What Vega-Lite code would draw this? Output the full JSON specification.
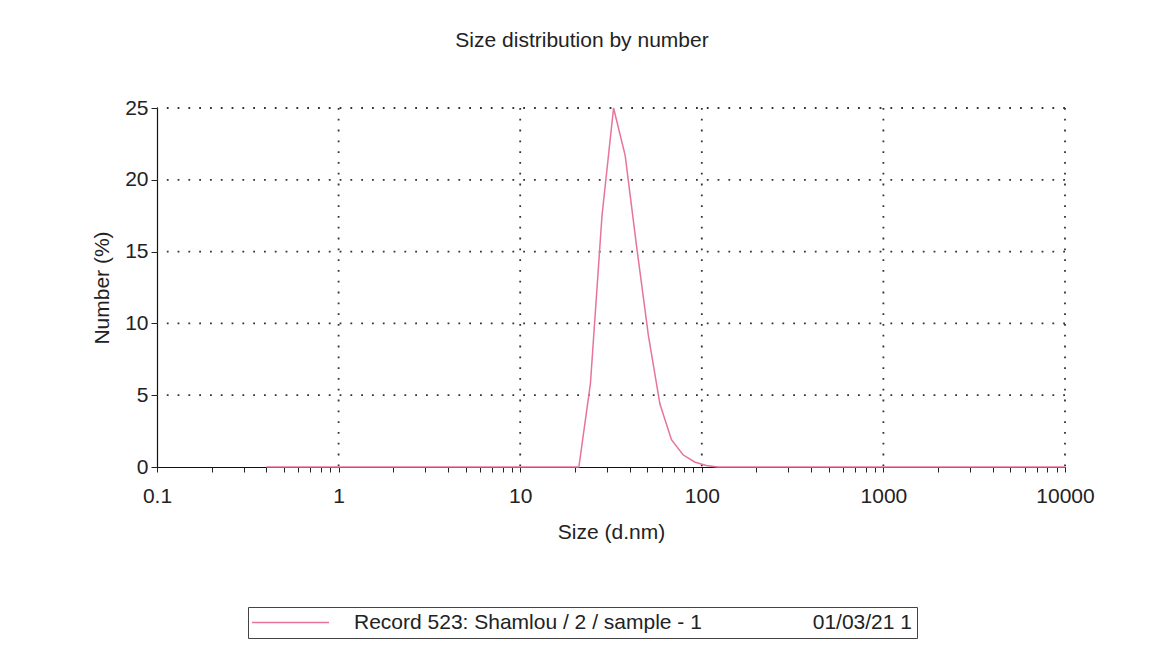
{
  "$schema": "https://vega.github.io/schema/vega-lite/v6.json",
  "autosize": {"type": "none"},
  "width": 908,
  "height": 359,
  "padding": {"left": 157, "top": 108, "right": 95, "bottom": 191},
  "background": "white",
  "title": {
    "text": "Size distribution by number",
    "font": "Liberation Sans",
    "fontSize": 21,
    "fontWeight": "normal",
    "color": "#222",
    "anchor": "middle",
    "frame": "group",
    "dx": -29,
    "offset": 46
  },
  "datasets": {
    "dist": [
      {"size": 0.4, "number": 0, "record": "Record 523: Shamlou / 2 / sample - 1\u00a0\u00a0\u00a0\u00a0\u00a0\u00a0\u00a0\u00a0\u00a0\u00a0\u00a0\u00a0\u00a0\u00a0\u00a0\u00a0\u00a0\u00a0\u00a001/03/21 1"},
      {"size": 0.4632, "number": 0, "record": "Record 523: Shamlou / 2 / sample - 1\u00a0\u00a0\u00a0\u00a0\u00a0\u00a0\u00a0\u00a0\u00a0\u00a0\u00a0\u00a0\u00a0\u00a0\u00a0\u00a0\u00a0\u00a0\u00a001/03/21 1"},
      {"size": 0.5365, "number": 0, "record": "Record 523: Shamlou / 2 / sample - 1\u00a0\u00a0\u00a0\u00a0\u00a0\u00a0\u00a0\u00a0\u00a0\u00a0\u00a0\u00a0\u00a0\u00a0\u00a0\u00a0\u00a0\u00a0\u00a001/03/21 1"},
      {"size": 0.6213, "number": 0, "record": "Record 523: Shamlou / 2 / sample - 1\u00a0\u00a0\u00a0\u00a0\u00a0\u00a0\u00a0\u00a0\u00a0\u00a0\u00a0\u00a0\u00a0\u00a0\u00a0\u00a0\u00a0\u00a0\u00a001/03/21 1"},
      {"size": 0.7195, "number": 0, "record": "Record 523: Shamlou / 2 / sample - 1\u00a0\u00a0\u00a0\u00a0\u00a0\u00a0\u00a0\u00a0\u00a0\u00a0\u00a0\u00a0\u00a0\u00a0\u00a0\u00a0\u00a0\u00a0\u00a001/03/21 1"},
      {"size": 0.8332, "number": 0, "record": "Record 523: Shamlou / 2 / sample - 1\u00a0\u00a0\u00a0\u00a0\u00a0\u00a0\u00a0\u00a0\u00a0\u00a0\u00a0\u00a0\u00a0\u00a0\u00a0\u00a0\u00a0\u00a0\u00a001/03/21 1"},
      {"size": 0.9649, "number": 0, "record": "Record 523: Shamlou / 2 / sample - 1\u00a0\u00a0\u00a0\u00a0\u00a0\u00a0\u00a0\u00a0\u00a0\u00a0\u00a0\u00a0\u00a0\u00a0\u00a0\u00a0\u00a0\u00a0\u00a001/03/21 1"},
      {"size": 1.117, "number": 0, "record": "Record 523: Shamlou / 2 / sample - 1\u00a0\u00a0\u00a0\u00a0\u00a0\u00a0\u00a0\u00a0\u00a0\u00a0\u00a0\u00a0\u00a0\u00a0\u00a0\u00a0\u00a0\u00a0\u00a001/03/21 1"},
      {"size": 1.294, "number": 0, "record": "Record 523: Shamlou / 2 / sample - 1\u00a0\u00a0\u00a0\u00a0\u00a0\u00a0\u00a0\u00a0\u00a0\u00a0\u00a0\u00a0\u00a0\u00a0\u00a0\u00a0\u00a0\u00a0\u00a001/03/21 1"},
      {"size": 1.499, "number": 0, "record": "Record 523: Shamlou / 2 / sample - 1\u00a0\u00a0\u00a0\u00a0\u00a0\u00a0\u00a0\u00a0\u00a0\u00a0\u00a0\u00a0\u00a0\u00a0\u00a0\u00a0\u00a0\u00a0\u00a001/03/21 1"},
      {"size": 1.736, "number": 0, "record": "Record 523: Shamlou / 2 / sample - 1\u00a0\u00a0\u00a0\u00a0\u00a0\u00a0\u00a0\u00a0\u00a0\u00a0\u00a0\u00a0\u00a0\u00a0\u00a0\u00a0\u00a0\u00a0\u00a001/03/21 1"},
      {"size": 2.01, "number": 0, "record": "Record 523: Shamlou / 2 / sample - 1\u00a0\u00a0\u00a0\u00a0\u00a0\u00a0\u00a0\u00a0\u00a0\u00a0\u00a0\u00a0\u00a0\u00a0\u00a0\u00a0\u00a0\u00a0\u00a001/03/21 1"},
      {"size": 2.328, "number": 0, "record": "Record 523: Shamlou / 2 / sample - 1\u00a0\u00a0\u00a0\u00a0\u00a0\u00a0\u00a0\u00a0\u00a0\u00a0\u00a0\u00a0\u00a0\u00a0\u00a0\u00a0\u00a0\u00a0\u00a001/03/21 1"},
      {"size": 2.696, "number": 0, "record": "Record 523: Shamlou / 2 / sample - 1\u00a0\u00a0\u00a0\u00a0\u00a0\u00a0\u00a0\u00a0\u00a0\u00a0\u00a0\u00a0\u00a0\u00a0\u00a0\u00a0\u00a0\u00a0\u00a001/03/21 1"},
      {"size": 3.122, "number": 0, "record": "Record 523: Shamlou / 2 / sample - 1\u00a0\u00a0\u00a0\u00a0\u00a0\u00a0\u00a0\u00a0\u00a0\u00a0\u00a0\u00a0\u00a0\u00a0\u00a0\u00a0\u00a0\u00a0\u00a001/03/21 1"},
      {"size": 3.615, "number": 0, "record": "Record 523: Shamlou / 2 / sample - 1\u00a0\u00a0\u00a0\u00a0\u00a0\u00a0\u00a0\u00a0\u00a0\u00a0\u00a0\u00a0\u00a0\u00a0\u00a0\u00a0\u00a0\u00a0\u00a001/03/21 1"},
      {"size": 4.187, "number": 0, "record": "Record 523: Shamlou / 2 / sample - 1\u00a0\u00a0\u00a0\u00a0\u00a0\u00a0\u00a0\u00a0\u00a0\u00a0\u00a0\u00a0\u00a0\u00a0\u00a0\u00a0\u00a0\u00a0\u00a001/03/21 1"},
      {"size": 4.849, "number": 0, "record": "Record 523: Shamlou / 2 / sample - 1\u00a0\u00a0\u00a0\u00a0\u00a0\u00a0\u00a0\u00a0\u00a0\u00a0\u00a0\u00a0\u00a0\u00a0\u00a0\u00a0\u00a0\u00a0\u00a001/03/21 1"},
      {"size": 5.615, "number": 0, "record": "Record 523: Shamlou / 2 / sample - 1\u00a0\u00a0\u00a0\u00a0\u00a0\u00a0\u00a0\u00a0\u00a0\u00a0\u00a0\u00a0\u00a0\u00a0\u00a0\u00a0\u00a0\u00a0\u00a001/03/21 1"},
      {"size": 6.503, "number": 0, "record": "Record 523: Shamlou / 2 / sample - 1\u00a0\u00a0\u00a0\u00a0\u00a0\u00a0\u00a0\u00a0\u00a0\u00a0\u00a0\u00a0\u00a0\u00a0\u00a0\u00a0\u00a0\u00a0\u00a001/03/21 1"},
      {"size": 7.531, "number": 0, "record": "Record 523: Shamlou / 2 / sample - 1\u00a0\u00a0\u00a0\u00a0\u00a0\u00a0\u00a0\u00a0\u00a0\u00a0\u00a0\u00a0\u00a0\u00a0\u00a0\u00a0\u00a0\u00a0\u00a001/03/21 1"},
      {"size": 8.721, "number": 0, "record": "Record 523: Shamlou / 2 / sample - 1\u00a0\u00a0\u00a0\u00a0\u00a0\u00a0\u00a0\u00a0\u00a0\u00a0\u00a0\u00a0\u00a0\u00a0\u00a0\u00a0\u00a0\u00a0\u00a001/03/21 1"},
      {"size": 10.1, "number": 0, "record": "Record 523: Shamlou / 2 / sample - 1\u00a0\u00a0\u00a0\u00a0\u00a0\u00a0\u00a0\u00a0\u00a0\u00a0\u00a0\u00a0\u00a0\u00a0\u00a0\u00a0\u00a0\u00a0\u00a001/03/21 1"},
      {"size": 11.7, "number": 0, "record": "Record 523: Shamlou / 2 / sample - 1\u00a0\u00a0\u00a0\u00a0\u00a0\u00a0\u00a0\u00a0\u00a0\u00a0\u00a0\u00a0\u00a0\u00a0\u00a0\u00a0\u00a0\u00a0\u00a001/03/21 1"},
      {"size": 13.54, "number": 0, "record": "Record 523: Shamlou / 2 / sample - 1\u00a0\u00a0\u00a0\u00a0\u00a0\u00a0\u00a0\u00a0\u00a0\u00a0\u00a0\u00a0\u00a0\u00a0\u00a0\u00a0\u00a0\u00a0\u00a001/03/21 1"},
      {"size": 15.69, "number": 0, "record": "Record 523: Shamlou / 2 / sample - 1\u00a0\u00a0\u00a0\u00a0\u00a0\u00a0\u00a0\u00a0\u00a0\u00a0\u00a0\u00a0\u00a0\u00a0\u00a0\u00a0\u00a0\u00a0\u00a001/03/21 1"},
      {"size": 18.17, "number": 0, "record": "Record 523: Shamlou / 2 / sample - 1\u00a0\u00a0\u00a0\u00a0\u00a0\u00a0\u00a0\u00a0\u00a0\u00a0\u00a0\u00a0\u00a0\u00a0\u00a0\u00a0\u00a0\u00a0\u00a001/03/21 1"},
      {"size": 21.04, "number": 0, "record": "Record 523: Shamlou / 2 / sample - 1\u00a0\u00a0\u00a0\u00a0\u00a0\u00a0\u00a0\u00a0\u00a0\u00a0\u00a0\u00a0\u00a0\u00a0\u00a0\u00a0\u00a0\u00a0\u00a001/03/21 1"},
      {"size": 24.36, "number": 5.8, "record": "Record 523: Shamlou / 2 / sample - 1\u00a0\u00a0\u00a0\u00a0\u00a0\u00a0\u00a0\u00a0\u00a0\u00a0\u00a0\u00a0\u00a0\u00a0\u00a0\u00a0\u00a0\u00a0\u00a001/03/21 1"},
      {"size": 28.21, "number": 17.5, "record": "Record 523: Shamlou / 2 / sample - 1\u00a0\u00a0\u00a0\u00a0\u00a0\u00a0\u00a0\u00a0\u00a0\u00a0\u00a0\u00a0\u00a0\u00a0\u00a0\u00a0\u00a0\u00a0\u00a001/03/21 1"},
      {"size": 32.67, "number": 25.0, "record": "Record 523: Shamlou / 2 / sample - 1\u00a0\u00a0\u00a0\u00a0\u00a0\u00a0\u00a0\u00a0\u00a0\u00a0\u00a0\u00a0\u00a0\u00a0\u00a0\u00a0\u00a0\u00a0\u00a001/03/21 1"},
      {"size": 37.84, "number": 21.7, "record": "Record 523: Shamlou / 2 / sample - 1\u00a0\u00a0\u00a0\u00a0\u00a0\u00a0\u00a0\u00a0\u00a0\u00a0\u00a0\u00a0\u00a0\u00a0\u00a0\u00a0\u00a0\u00a0\u00a001/03/21 1"},
      {"size": 43.82, "number": 15.3, "record": "Record 523: Shamlou / 2 / sample - 1\u00a0\u00a0\u00a0\u00a0\u00a0\u00a0\u00a0\u00a0\u00a0\u00a0\u00a0\u00a0\u00a0\u00a0\u00a0\u00a0\u00a0\u00a0\u00a001/03/21 1"},
      {"size": 50.75, "number": 9.2, "record": "Record 523: Shamlou / 2 / sample - 1\u00a0\u00a0\u00a0\u00a0\u00a0\u00a0\u00a0\u00a0\u00a0\u00a0\u00a0\u00a0\u00a0\u00a0\u00a0\u00a0\u00a0\u00a0\u00a001/03/21 1"},
      {"size": 58.77, "number": 4.4, "record": "Record 523: Shamlou / 2 / sample - 1\u00a0\u00a0\u00a0\u00a0\u00a0\u00a0\u00a0\u00a0\u00a0\u00a0\u00a0\u00a0\u00a0\u00a0\u00a0\u00a0\u00a0\u00a0\u00a001/03/21 1"},
      {"size": 68.06, "number": 1.9, "record": "Record 523: Shamlou / 2 / sample - 1\u00a0\u00a0\u00a0\u00a0\u00a0\u00a0\u00a0\u00a0\u00a0\u00a0\u00a0\u00a0\u00a0\u00a0\u00a0\u00a0\u00a0\u00a0\u00a001/03/21 1"},
      {"size": 78.82, "number": 0.85, "record": "Record 523: Shamlou / 2 / sample - 1\u00a0\u00a0\u00a0\u00a0\u00a0\u00a0\u00a0\u00a0\u00a0\u00a0\u00a0\u00a0\u00a0\u00a0\u00a0\u00a0\u00a0\u00a0\u00a001/03/21 1"},
      {"size": 91.28, "number": 0.35, "record": "Record 523: Shamlou / 2 / sample - 1\u00a0\u00a0\u00a0\u00a0\u00a0\u00a0\u00a0\u00a0\u00a0\u00a0\u00a0\u00a0\u00a0\u00a0\u00a0\u00a0\u00a0\u00a0\u00a001/03/21 1"},
      {"size": 105.7, "number": 0.1, "record": "Record 523: Shamlou / 2 / sample - 1\u00a0\u00a0\u00a0\u00a0\u00a0\u00a0\u00a0\u00a0\u00a0\u00a0\u00a0\u00a0\u00a0\u00a0\u00a0\u00a0\u00a0\u00a0\u00a001/03/21 1"},
      {"size": 122.4, "number": 0, "record": "Record 523: Shamlou / 2 / sample - 1\u00a0\u00a0\u00a0\u00a0\u00a0\u00a0\u00a0\u00a0\u00a0\u00a0\u00a0\u00a0\u00a0\u00a0\u00a0\u00a0\u00a0\u00a0\u00a001/03/21 1"},
      {"size": 141.8, "number": 0, "record": "Record 523: Shamlou / 2 / sample - 1\u00a0\u00a0\u00a0\u00a0\u00a0\u00a0\u00a0\u00a0\u00a0\u00a0\u00a0\u00a0\u00a0\u00a0\u00a0\u00a0\u00a0\u00a0\u00a001/03/21 1"},
      {"size": 164.2, "number": 0, "record": "Record 523: Shamlou / 2 / sample - 1\u00a0\u00a0\u00a0\u00a0\u00a0\u00a0\u00a0\u00a0\u00a0\u00a0\u00a0\u00a0\u00a0\u00a0\u00a0\u00a0\u00a0\u00a0\u00a001/03/21 1"},
      {"size": 190.1, "number": 0, "record": "Record 523: Shamlou / 2 / sample - 1\u00a0\u00a0\u00a0\u00a0\u00a0\u00a0\u00a0\u00a0\u00a0\u00a0\u00a0\u00a0\u00a0\u00a0\u00a0\u00a0\u00a0\u00a0\u00a001/03/21 1"},
      {"size": 220.2, "number": 0, "record": "Record 523: Shamlou / 2 / sample - 1\u00a0\u00a0\u00a0\u00a0\u00a0\u00a0\u00a0\u00a0\u00a0\u00a0\u00a0\u00a0\u00a0\u00a0\u00a0\u00a0\u00a0\u00a0\u00a001/03/21 1"},
      {"size": 255.0, "number": 0, "record": "Record 523: Shamlou / 2 / sample - 1\u00a0\u00a0\u00a0\u00a0\u00a0\u00a0\u00a0\u00a0\u00a0\u00a0\u00a0\u00a0\u00a0\u00a0\u00a0\u00a0\u00a0\u00a0\u00a001/03/21 1"},
      {"size": 295.3, "number": 0, "record": "Record 523: Shamlou / 2 / sample - 1\u00a0\u00a0\u00a0\u00a0\u00a0\u00a0\u00a0\u00a0\u00a0\u00a0\u00a0\u00a0\u00a0\u00a0\u00a0\u00a0\u00a0\u00a0\u00a001/03/21 1"},
      {"size": 342.0, "number": 0, "record": "Record 523: Shamlou / 2 / sample - 1\u00a0\u00a0\u00a0\u00a0\u00a0\u00a0\u00a0\u00a0\u00a0\u00a0\u00a0\u00a0\u00a0\u00a0\u00a0\u00a0\u00a0\u00a0\u00a001/03/21 1"},
      {"size": 396.1, "number": 0, "record": "Record 523: Shamlou / 2 / sample - 1\u00a0\u00a0\u00a0\u00a0\u00a0\u00a0\u00a0\u00a0\u00a0\u00a0\u00a0\u00a0\u00a0\u00a0\u00a0\u00a0\u00a0\u00a0\u00a001/03/21 1"},
      {"size": 458.7, "number": 0, "record": "Record 523: Shamlou / 2 / sample - 1\u00a0\u00a0\u00a0\u00a0\u00a0\u00a0\u00a0\u00a0\u00a0\u00a0\u00a0\u00a0\u00a0\u00a0\u00a0\u00a0\u00a0\u00a0\u00a001/03/21 1"},
      {"size": 531.2, "number": 0, "record": "Record 523: Shamlou / 2 / sample - 1\u00a0\u00a0\u00a0\u00a0\u00a0\u00a0\u00a0\u00a0\u00a0\u00a0\u00a0\u00a0\u00a0\u00a0\u00a0\u00a0\u00a0\u00a0\u00a001/03/21 1"},
      {"size": 615.1, "number": 0, "record": "Record 523: Shamlou / 2 / sample - 1\u00a0\u00a0\u00a0\u00a0\u00a0\u00a0\u00a0\u00a0\u00a0\u00a0\u00a0\u00a0\u00a0\u00a0\u00a0\u00a0\u00a0\u00a0\u00a001/03/21 1"},
      {"size": 712.4, "number": 0, "record": "Record 523: Shamlou / 2 / sample - 1\u00a0\u00a0\u00a0\u00a0\u00a0\u00a0\u00a0\u00a0\u00a0\u00a0\u00a0\u00a0\u00a0\u00a0\u00a0\u00a0\u00a0\u00a0\u00a001/03/21 1"},
      {"size": 825.0, "number": 0, "record": "Record 523: Shamlou / 2 / sample - 1\u00a0\u00a0\u00a0\u00a0\u00a0\u00a0\u00a0\u00a0\u00a0\u00a0\u00a0\u00a0\u00a0\u00a0\u00a0\u00a0\u00a0\u00a0\u00a001/03/21 1"},
      {"size": 955.4, "number": 0, "record": "Record 523: Shamlou / 2 / sample - 1\u00a0\u00a0\u00a0\u00a0\u00a0\u00a0\u00a0\u00a0\u00a0\u00a0\u00a0\u00a0\u00a0\u00a0\u00a0\u00a0\u00a0\u00a0\u00a001/03/21 1"},
      {"size": 1106, "number": 0, "record": "Record 523: Shamlou / 2 / sample - 1\u00a0\u00a0\u00a0\u00a0\u00a0\u00a0\u00a0\u00a0\u00a0\u00a0\u00a0\u00a0\u00a0\u00a0\u00a0\u00a0\u00a0\u00a0\u00a001/03/21 1"},
      {"size": 1281, "number": 0, "record": "Record 523: Shamlou / 2 / sample - 1\u00a0\u00a0\u00a0\u00a0\u00a0\u00a0\u00a0\u00a0\u00a0\u00a0\u00a0\u00a0\u00a0\u00a0\u00a0\u00a0\u00a0\u00a0\u00a001/03/21 1"},
      {"size": 1484, "number": 0, "record": "Record 523: Shamlou / 2 / sample - 1\u00a0\u00a0\u00a0\u00a0\u00a0\u00a0\u00a0\u00a0\u00a0\u00a0\u00a0\u00a0\u00a0\u00a0\u00a0\u00a0\u00a0\u00a0\u00a001/03/21 1"},
      {"size": 1718, "number": 0, "record": "Record 523: Shamlou / 2 / sample - 1\u00a0\u00a0\u00a0\u00a0\u00a0\u00a0\u00a0\u00a0\u00a0\u00a0\u00a0\u00a0\u00a0\u00a0\u00a0\u00a0\u00a0\u00a0\u00a001/03/21 1"},
      {"size": 1990, "number": 0, "record": "Record 523: Shamlou / 2 / sample - 1\u00a0\u00a0\u00a0\u00a0\u00a0\u00a0\u00a0\u00a0\u00a0\u00a0\u00a0\u00a0\u00a0\u00a0\u00a0\u00a0\u00a0\u00a0\u00a001/03/21 1"},
      {"size": 2305, "number": 0, "record": "Record 523: Shamlou / 2 / sample - 1\u00a0\u00a0\u00a0\u00a0\u00a0\u00a0\u00a0\u00a0\u00a0\u00a0\u00a0\u00a0\u00a0\u00a0\u00a0\u00a0\u00a0\u00a0\u00a001/03/21 1"},
      {"size": 2669, "number": 0, "record": "Record 523: Shamlou / 2 / sample - 1\u00a0\u00a0\u00a0\u00a0\u00a0\u00a0\u00a0\u00a0\u00a0\u00a0\u00a0\u00a0\u00a0\u00a0\u00a0\u00a0\u00a0\u00a0\u00a001/03/21 1"},
      {"size": 3091, "number": 0, "record": "Record 523: Shamlou / 2 / sample - 1\u00a0\u00a0\u00a0\u00a0\u00a0\u00a0\u00a0\u00a0\u00a0\u00a0\u00a0\u00a0\u00a0\u00a0\u00a0\u00a0\u00a0\u00a0\u00a001/03/21 1"},
      {"size": 3580, "number": 0, "record": "Record 523: Shamlou / 2 / sample - 1\u00a0\u00a0\u00a0\u00a0\u00a0\u00a0\u00a0\u00a0\u00a0\u00a0\u00a0\u00a0\u00a0\u00a0\u00a0\u00a0\u00a0\u00a0\u00a001/03/21 1"},
      {"size": 4145, "number": 0, "record": "Record 523: Shamlou / 2 / sample - 1\u00a0\u00a0\u00a0\u00a0\u00a0\u00a0\u00a0\u00a0\u00a0\u00a0\u00a0\u00a0\u00a0\u00a0\u00a0\u00a0\u00a0\u00a0\u00a001/03/21 1"},
      {"size": 4801, "number": 0, "record": "Record 523: Shamlou / 2 / sample - 1\u00a0\u00a0\u00a0\u00a0\u00a0\u00a0\u00a0\u00a0\u00a0\u00a0\u00a0\u00a0\u00a0\u00a0\u00a0\u00a0\u00a0\u00a0\u00a001/03/21 1"},
      {"size": 5560, "number": 0, "record": "Record 523: Shamlou / 2 / sample - 1\u00a0\u00a0\u00a0\u00a0\u00a0\u00a0\u00a0\u00a0\u00a0\u00a0\u00a0\u00a0\u00a0\u00a0\u00a0\u00a0\u00a0\u00a0\u00a001/03/21 1"},
      {"size": 6439, "number": 0, "record": "Record 523: Shamlou / 2 / sample - 1\u00a0\u00a0\u00a0\u00a0\u00a0\u00a0\u00a0\u00a0\u00a0\u00a0\u00a0\u00a0\u00a0\u00a0\u00a0\u00a0\u00a0\u00a0\u00a001/03/21 1"},
      {"size": 7456, "number": 0, "record": "Record 523: Shamlou / 2 / sample - 1\u00a0\u00a0\u00a0\u00a0\u00a0\u00a0\u00a0\u00a0\u00a0\u00a0\u00a0\u00a0\u00a0\u00a0\u00a0\u00a0\u00a0\u00a0\u00a001/03/21 1"},
      {"size": 8635, "number": 0, "record": "Record 523: Shamlou / 2 / sample - 1\u00a0\u00a0\u00a0\u00a0\u00a0\u00a0\u00a0\u00a0\u00a0\u00a0\u00a0\u00a0\u00a0\u00a0\u00a0\u00a0\u00a0\u00a0\u00a001/03/21 1"},
      {"size": 10000, "number": 0, "record": "Record 523: Shamlou / 2 / sample - 1\u00a0\u00a0\u00a0\u00a0\u00a0\u00a0\u00a0\u00a0\u00a0\u00a0\u00a0\u00a0\u00a0\u00a0\u00a0\u00a0\u00a0\u00a0\u00a001/03/21 1"}
    ],
    "xgrid": [{"size": 1}, {"size": 10}, {"size": 100}, {"size": 1000}, {"size": 10000}],
    "ygrid": [{"number": 5}, {"number": 10}, {"number": 15}, {"number": 20}, {"number": 25}]
  },
  "config": {
    "font": "Liberation Sans",
    "view": {"stroke": null},
    "axis": {
      "domainColor": "#111",
      "domainWidth": 1.2,
      "tickColor": "#222",
      "tickWidth": 1,
      "labelFont": "Liberation Sans",
      "labelFontSize": 21,
      "labelColor": "#222",
      "titleFont": "Liberation Sans",
      "titleFontSize": 21,
      "titleFontWeight": "normal",
      "titleColor": "#222",
      "grid": false
    }
  },
  "layer": [
    {
      "data": {"name": "xgrid"},
      "mark": {"type": "rule", "color": "#333", "strokeWidth": 1.8, "strokeDash": [1.8, 9]},
      "encoding": {
        "x": {"field": "size", "type": "quantitative", "scale": {"type": "log", "domain": [0.1, 10000], "nice": false}}
      }
    },
    {
      "data": {"name": "ygrid"},
      "mark": {"type": "rule", "color": "#333", "strokeWidth": 1.8, "strokeDash": [1.8, 9]},
      "encoding": {
        "y": {"field": "number", "type": "quantitative", "scale": {"domain": [0, 25], "nice": false}}
      }
    },
    {
      "data": {"name": "dist"},
      "mark": {"type": "line", "strokeWidth": 1.5, "interpolate": "linear"},
      "encoding": {
        "x": {
          "field": "size",
          "type": "quantitative",
          "scale": {"type": "log", "domain": [0.1, 10000], "nice": false},
          "axis": {
            "title": "Size (d.nm)",
            "values": [0.1, 0.2, 0.3, 0.4, 0.5, 0.6, 0.7, 0.8, 0.9, 1, 2, 3, 4, 5, 6, 7, 8, 9, 10, 20, 30, 40, 50, 60, 70, 80, 90, 100, 200, 300, 400, 500, 600, 700, 800, 900, 1000, 2000, 3000, 4000, 5000, 6000, 7000, 8000, 9000, 10000],
            "labelExpr": "indexof(['0.1','1','10','100','1000','10000'], toString(datum.value)) >= 0 ? datum.value : ''",
            "tickSize": 5,
            "labelPadding": 13,
            "titlePadding": 15,
            "labelFlush": false,
            "labelOverlap": false
          }
        },
        "y": {
          "field": "number",
          "type": "quantitative",
          "scale": {"domain": [0, 25], "nice": false},
          "axis": {
            "title": "Number (%)",
            "values": [0, 2.5, 5, 7.5, 10, 12.5, 15, 17.5, 20, 22.5, 25],
            "labelExpr": "datum.value % 5 === 0 ? datum.value : ''",
            "tickSize": 6,
            "labelPadding": 3,
            "titlePadding": 12,
            "labelFlush": false,
            "labelOverlap": false
          }
        },
        "color": {
          "field": "record",
          "type": "nominal",
          "scale": {"range": ["#e8739b"]},
          "legend": {
            "orient": "none",
            "legendX": 91,
            "legendY": 499,
            "title": null,
            "padding": 5,
            "strokeColor": "#444",
            "fillColor": "white",
            "labelFont": "Liberation Sans",
            "labelFontSize": 21,
            "labelColor": "#222",
            "labelLimit": 0,
            "symbolType": "M-5,0H5",
            "symbolSize": 237,
            "symbolOffset": 27,
            "labelOffset": 53,
            "symbolStrokeWidth": 1.5
          }
        }
      }
    }
  ]
}
